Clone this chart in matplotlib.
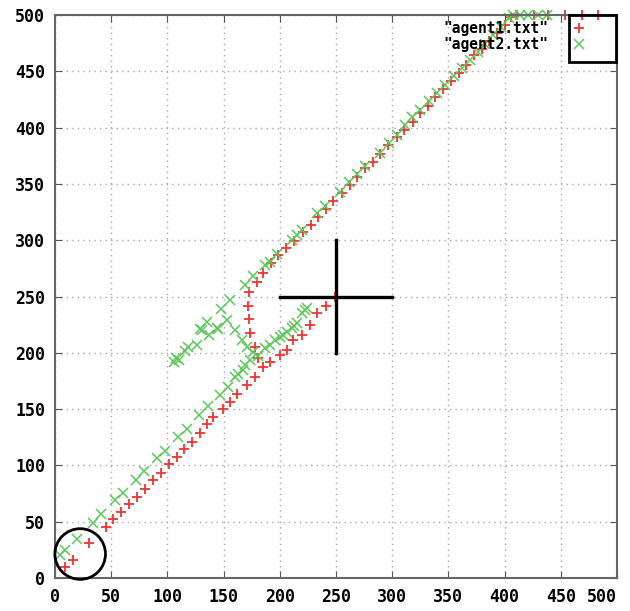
import matplotlib
matplotlib.use("Agg")
import matplotlib.pyplot as plt
from matplotlib.patches import Circle, Rectangle

# agent1.txt positions
agent1_x = [9, 15.7, 30.5, 45.3, 51.5, 58.7, 65.8, 72.7, 79.7, 86.9, 94.1, 101.2,
            108.3, 114.8, 121.6, 129, 135, 141, 149.8, 155.5, 161.6, 170.5, 177.9,
            185.3, 191.3, 200.2, 206.1, 212, 219.5, 226.9, 232.8, 241, 249,
            180.9, 177.9, 173.5, 172.9, 172, 172.9, 179.4, 185.3, 191.9, 198.7,
            205.5, 212.6, 220.4, 227.5, 234.3, 240.8, 247.6, 255, 262.5, 269,
            275.8, 282.6, 289.1, 296.5, 304, 310.8, 318.2, 324.7, 331.5, 338,
            345, 352, 359, 366, 373, 380, 386.5, 393, 400, 406,
            411, 426, 439, 454, 469, 483]
agent1_y = [9.5, 16, 31, 45.6, 52, 58.6, 65.5, 72.2, 79.3, 87, 93.5, 101,
            107.7, 114.3, 121, 129, 136.8, 143.3, 149.8, 156.5, 163.4, 171.4, 178.8,
            187.7, 192.1, 198, 202.5, 211.4, 215.8, 224.7, 235.1, 242, 249.5,
            195, 205.4, 218, 230, 241.6, 254.3, 263.1, 271.1, 279.5, 286.9,
            293.3, 299.3, 307.5, 313.5, 320.3, 327.4, 335.1, 341.6, 349, 355.8,
            363.7, 369.7, 376.6, 384.5, 391.4, 397.9, 404.7, 412.7, 419, 427.4,
            434, 441, 448.2, 456, 464.5, 470, 477, 484, 491.1, 498,
            500, 500, 500, 500, 500, 500]

# agent2.txt positions
agent2_x = [4.4, 8.9, 19.5, 34, 40.8, 53, 60.2, 71.8, 79.4, 90.5, 97.9, 109.2,
            117, 128.4, 136, 146.8, 154.2, 160, 163, 167.5, 169, 173.5, 186.8,
            191, 195.7, 200.2, 203, 206.1, 210.6, 213, 215, 219.5, 222.4, 224,
            106, 108, 110, 116, 118, 126, 129, 131, 135.5, 137, 144, 145, 148,
            153, 155.5, 160, 166, 170.5, 176, 181,
            169, 176, 187, 191, 197.5, 210.5, 215, 219.5, 233, 240, 254, 262,
            268.5, 276, 289, 297, 304, 311, 318, 325, 333, 340, 347, 355, 362,
            369, 376, 383, 390, 397, 404, 407.5, 414, 421, 430, 437.5]
agent2_y = [20.4, 24.9, 35, 49, 56.5, 69.5, 75.8, 87, 95.3, 106.3, 113.1, 125,
            132.5, 145, 152.8, 162.5, 170, 178.8, 181, 184.7, 189, 193.6, 204,
            207, 211.4, 214.3, 216, 218.7, 221.8, 224, 226.2, 235.1, 238, 239.5,
            192, 195, 194, 202, 205, 207, 221, 220, 227, 216, 222, 221, 239,
            229, 247, 220, 211, 205.5, 201, 197,
            260, 268, 278, 281, 287.5, 300, 305, 309, 324, 330, 343, 352,
            359, 365.5, 377, 386, 393.5, 402, 409, 416, 424, 431, 438, 446, 453,
            460, 467, 474, 482, 489, 497, 500, 500, 500, 500, 500]

ticks = list(range(0, 501, 50))
goal = (250, 250)
start = (22.4, 21.3)

fig = plt.figure(figsize=(6.3, 6.11), dpi=100)
ax = fig.add_axes([55 / 630, 33 / 611, 562 / 630, 563 / 611])

ax.plot(agent1_x, agent1_y, linestyle='none', marker='+', markersize=7.5,
        markeredgewidth=1.3, color='#ee3333', label='"agent1.txt"', clip_on=False)
ax.plot(agent2_x, agent2_y, linestyle='none', marker='x', markersize=7.5,
        markeredgewidth=1.1, color='#5cc85c', label='"agent2.txt"', clip_on=False)

# goal cross
ax.plot([goal[0] - 50, goal[0] + 50], [goal[1], goal[1]], color='black', lw=2.4, zorder=5)
ax.plot([goal[0], goal[0]], [goal[1] - 50, goal[1] + 50], color='black', lw=2.4, zorder=5)
# start circle
ax.add_patch(Circle(start, 22.5, fill=False, edgecolor='black', lw=2, clip_on=False, zorder=5))
# box around legend keys
ax.add_patch(Rectangle((457.5, 458), 42, 42, fill=False, edgecolor='black', lw=2,
                       clip_on=False, zorder=5))

ax.set_xlim(0, 500)
ax.set_ylim(0, 500)
ax.set_xticks(ticks)
ax.set_yticks(ticks)
ax.grid(True, color='#a8a8a8', linestyle=(0, (1, 3)), linewidth=1)
ax.tick_params(direction='in', length=5, top=True, right=True, color='#555555',
               labelsize=12, pad=7)
for lab in ax.get_xticklabels() + ax.get_yticklabels():
    lab.set_fontfamily('DejaVu Sans Mono')
    lab.set_fontweight('bold')
ax.get_xticklabels()[-1].set_horizontalalignment('right')
ax.get_xticklabels()[-1].set_x(1.0)
for sp in ax.spines.values():
    sp.set_color('#666666')
    sp.set_linewidth(1.5)

ax.legend(loc='upper right', bbox_to_anchor=(0.9454, 0.989), markerfirst=False,
          frameon=False, handlelength=1.0, handletextpad=1.6, labelspacing=0.05,
          borderpad=0, borderaxespad=0,
          prop={'family': 'DejaVu Sans Mono', 'weight': 'bold', 'size': 10.5})

fig.savefig('out.png', dpi=100)
